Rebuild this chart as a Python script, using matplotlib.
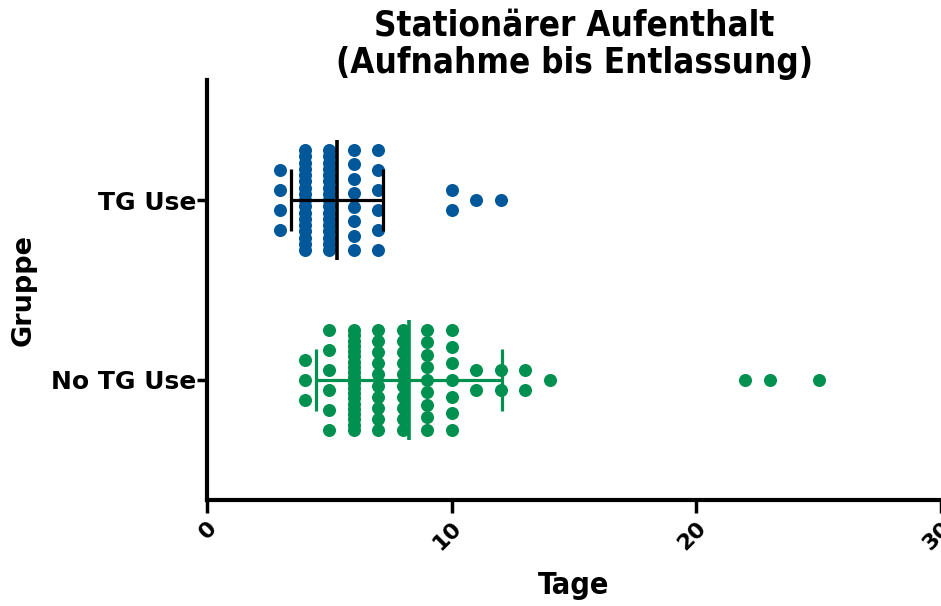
import numpy as np
import matplotlib
matplotlib.use('Agg')
import matplotlib.pyplot as plt

# data: length of stay (days) and number of patients per value
groups = ['No TG Use', 'TG Use']
tg_days = [3, 4, 5, 6, 7, 10, 11, 12]
tg_counts = [4, 17, 17, 8, 6, 2, 1, 1]
notg_days = [4, 5, 6, 7, 8, 9, 10, 11, 12, 13, 14, 22, 23, 25]
notg_counts = [3, 6, 20, 10, 10, 9, 7, 2, 2, 2, 1, 1, 1, 1]

colors = {'TG Use': '#00579a', 'No TG Use': '#00904f'}
bar_colors = {'TG Use': 'black', 'No TG Use': '#00904f'}

fig = plt.figure(figsize=(9.41, 6.06), dpi=100)
ax = fig.add_axes([207/941, 1-500/606, 1-207/941, 420/606])

def column_offsets(n):
    '''
    vertical stacking of n equal points, spaced like the prism scatter
    '''
    if n == 1:
        return np.zeros(1)
    step = min(20.0, 100.0/(n-1)) / 180.0
    return (np.arange(n) - (n-1)/2.0) * step

series = {'TG Use': (tg_days, tg_counts), 'No TG Use': (notg_days, notg_counts)}

for gi, name in enumerate(groups):
    days, counts = series[name]
    xs = []
    ys = []
    for d, c in zip(days, counts):
        xs.extend([d]*c)
        ys.extend(gi + column_offsets(c))
    ax.scatter(xs, ys, s=88, color=colors[name], linewidths=0, zorder=2, clip_on=False)

    # mean and SD bars
    vals = np.repeat(days, counts)
    m = vals.mean()
    sd = vals.std(ddof=1)
    bc = bar_colors[name]
    ax.plot([m - sd, m + sd], [gi, gi], color=bc, lw=2.3, zorder=3, solid_capstyle='butt')
    ax.plot([m, m], [gi - 0.335, gi + 0.335], color=bc, lw=2.6, zorder=3, solid_capstyle='butt')
    for e in (m - sd, m + sd):
        ax.plot([e, e], [gi - 0.17, gi + 0.17], color=bc, lw=2.3, zorder=3, solid_capstyle='butt')

ax.set_xlim(0, 30)
ax.set_ylim(-0.667, 1.667)
ax.set_xticks([0, 10, 20, 30])
ax.set_yticks([0, 1])
ax.set_yticklabels(groups)

for s in ['top', 'right']:
    ax.spines[s].set_visible(False)
for s in ['left', 'bottom']:
    ax.spines[s].set_linewidth(3)

ax.tick_params(axis='x', length=9, width=2.5, pad=4)
ax.tick_params(axis='y', length=7, width=2.5, pad=1)

for lab in ax.get_xticklabels():
    lab.set_fontsize(16)
    lab.set_fontweight('bold')
    lab.set_rotation(45)
    lab.set_ha('right')
    lab.set_va('top')
    lab.set_rotation_mode('anchor')
for lab in ax.get_yticklabels():
    lab.set_fontsize(18)
    lab.set_fontweight('bold')

ax.set_xlabel('Tage', fontsize=22, fontweight='bold', fontstretch='condensed', labelpad=12)
ax.set_ylabel('Gruppe', fontsize=19.5, fontweight='bold', labelpad=10)
ax.set_title('Stationärer Aufenthalt\n(Aufnahme bis Entlassung)', fontsize=25,
             fontweight='bold', fontstretch='condensed', linespacing=1.12, pad=-9)

fig.savefig('out.png', dpi=100)
